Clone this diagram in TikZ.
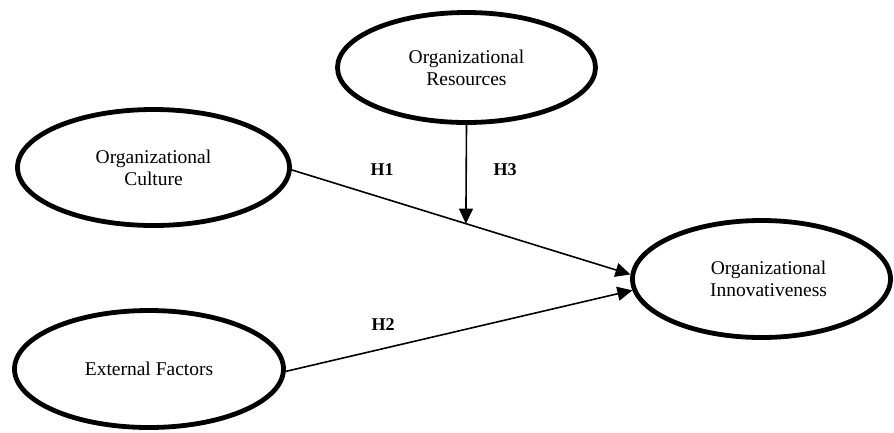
\documentclass[tikz,border=0pt]{standalone}
\usepackage{fontspec}
\setmainfont{Liberation Serif}
\usetikzlibrary{arrows.meta,shapes.geometric}
\begin{document}
\begin{tikzpicture}[x=1pt,y=-1pt,
  oval/.style={ellipse,draw,line width=4.8pt,inner sep=0pt,align=center,
    font=\fontsize{19.5}{22}\selectfont},
  conn/.style={line width=1.6pt,-{Triangle[length=15pt,width=14pt]}},
  hyp/.style={font=\fontsize{18}{20}\selectfont\bfseries}]
\useasboundingbox (0,0) rectangle (894,432);
\node[oval,minimum width=272pt,minimum height=116pt] (cul) at (153.5,167.5) {Organizational\\Culture};
\node[oval,minimum width=258pt,minimum height=110pt] (res) at (466.5,67.5) {Organizational\\Resources};
\node[oval,minimum width=258pt,minimum height=117pt] (inn) at (761.5,279) {\hspace*{14pt}Organizational\\\hspace*{14pt}Innovativeness};
\node[oval,minimum width=269pt,minimum height=117pt] (ext) at (149,369) {External Factors};
\draw[conn] (cul.-1) -- (inn.178);
\draw[conn] (ext.-1) -- (inn.185);
\path (cul.-1) -- (inn.178) coordinate[pos=0.514] (m);
\draw[conn] (res.south) -- (m);
\node[hyp] (h1) at (382,170) {H1};
\node[hyp] (h3) at (505,170) {H3};
\node[hyp] (h2) at (383,325) {H2};
\end{tikzpicture}
\end{document}
